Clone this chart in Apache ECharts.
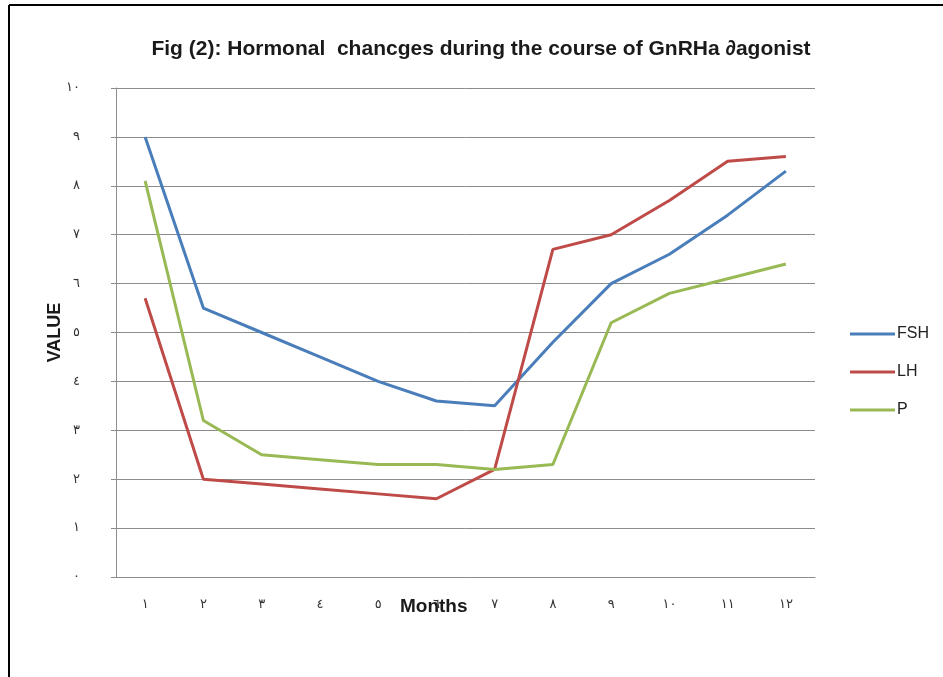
<!DOCTYPE html>
<html>
<head>
<meta charset="utf-8">
<script src="https://cdn.jsdelivr.net/npm/echarts@6/dist/echarts.min.js"></script>
<style>html,body{margin:0;padding:0;background:#fff}#c{width:943px;height:677px}</style>
</head>
<body>
<div id="c"></div>
<script>
const months = ['١','٢','٣','٤','٥','٦','٧','٨','٩','١٠','١١','١٢'];
const yTickLabels = ['٠','١','٢','٣','٤','٥','٦','٧','٨','٩','١٠'];
const fsh = [9.0, 5.5, 5.0, 4.5, 4.0, 3.6, 3.5, 4.8, 6.0, 6.6, 7.4, 8.3];
const lh  = [5.7, 2.0, 1.9, 1.8, 1.7, 1.6, 2.2, 6.7, 7.0, 7.7, 8.5, 8.6];
const p   = [8.1, 3.2, 2.5, 2.4, 2.3, 2.3, 2.2, 2.3, 5.2, 5.8, 6.1, 6.4];

const chart = echarts.init(document.getElementById('c'));
const lineSeries = (name, data, color) => ({
  name, type: 'line', data, symbol: 'none', smooth: false,
  lineStyle: { color, width: 3 }, itemStyle: { color }
});
chart.setOption({
  animation: false,
  backgroundColor: '#fff',
  title: {
    text: 'Fig (2): Hormonal  chancges during the course of GnRHa ∂agonist',
    left: 476, top: 34, textAlign: 'center',
    textStyle: { fontFamily: 'Liberation Sans', fontWeight: 'bold', fontSize: 21, color: '#1a1a1a' }
  },
  legend: {
    orient: 'vertical', left: 845, top: 321,
    itemWidth: 45, itemHeight: 3, itemGap: 22, icon: 'rect',
    textStyle: { fontFamily: 'Liberation Sans', fontSize: 16, color: '#222', padding: [0, 0, 0, -3] },
    data: ['FSH', 'LH', 'P']
  },
  grid: { left: 116, right: 128, top: 88, bottom: 100, containLabel: false },
  xAxis: {
    type: 'category', data: months, boundaryGap: true,
    axisLine: { lineStyle: { color: '#8c8c8c', width: 1 } },
    axisTick: { show: false },
    axisLabel: { color: '#333', fontSize: 13, margin: 21, fontFamily: 'DejaVu Sans' }
  },
  yAxis: {
    type: 'value', min: 0, max: 10, interval: 1,
    name: 'VALUE', nameLocation: 'middle', nameGap: 52, nameRotate: 90,
    nameMoveOverlap: false,
    nameTextStyle: { fontFamily: 'Liberation Sans', fontWeight: 'bold', fontSize: 18, color: '#1a1a1a' },
    axisLine: { show: true, lineStyle: { color: '#8c8c8c', width: 1 } },
    axisTick: { show: true, inside: false, length: 5, lineStyle: { color: '#8c8c8c' } },
    splitLine: { lineStyle: { color: '#8c8c8c', width: 1 } },
    axisLabel: {
      color: '#333', fontSize: 13, margin: 36, fontFamily: 'DejaVu Sans',
      formatter: v => yTickLabels[Math.round(v)]
    }
  },
  graphic: [
    { type: 'text', left: 400, top: 597,
      style: { text: 'Months', fontFamily: 'Liberation Sans', fontWeight: 'bold', fontSize: 19, fill: '#1a1a1a' } },
    { type: 'line', shape: { x1: 9, y1: 5, x2: 943, y2: 5 }, style: { stroke: '#000', lineWidth: 2 } },
    { type: 'line', shape: { x1: 9, y1: 5, x2: 9, y2: 677 }, style: { stroke: '#000', lineWidth: 2 } }
  ],
  series: [
    lineSeries('FSH', fsh, '#4A7EBB'),
    lineSeries('LH', lh, '#BE4B48'),
    lineSeries('P', p, '#98B954')
  ]
});
</script>
</body>
</html>
